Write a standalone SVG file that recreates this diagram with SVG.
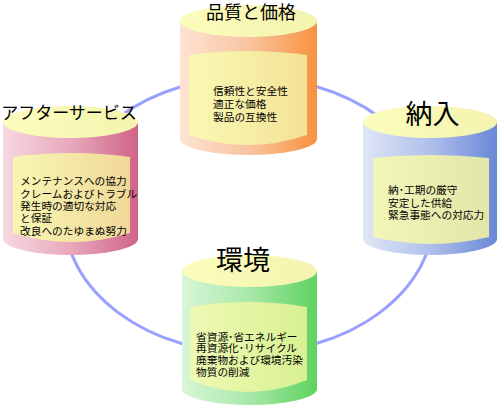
<svg xmlns="http://www.w3.org/2000/svg" width="499" height="406" viewBox="0 0 499 406">
<style>
.title{font-family:"Liberation Sans","Noto Sans CJK JP",sans-serif;fill:#000;text-anchor:middle}
.body{font-family:"Liberation Sans","Noto Sans CJK JP",sans-serif;fill:#000;font-size:10.7px}
.ring{fill:none;stroke:#9aa0ff;stroke-width:3}
.cap{fill:url(#gCap)}
</style>
<defs>
<linearGradient id="gCap" x1="0" y1="0" x2="1" y2="0"><stop offset="0" stop-color="#fcfcbc"/><stop offset="1" stop-color="#f4f4b0"/></linearGradient>
<linearGradient id="gOrange" x1="0" y1="0" x2="1" y2="0"><stop offset="0" stop-color="#fde3d4"/><stop offset="0.5" stop-color="#f9c4a0"/><stop offset="1" stop-color="#f7923e"/></linearGradient>
<linearGradient id="gPink" x1="0" y1="0" x2="1" y2="0"><stop offset="0" stop-color="#f6d8e0"/><stop offset="0.5" stop-color="#e8a8bc"/><stop offset="1" stop-color="#d06488"/></linearGradient>
<linearGradient id="gBlue" x1="0" y1="0" x2="1" y2="0"><stop offset="0" stop-color="#e0e6f6"/><stop offset="0.5" stop-color="#b0c0ec"/><stop offset="1" stop-color="#6a88d8"/></linearGradient>
<linearGradient id="gGreen" x1="0" y1="0" x2="1" y2="0"><stop offset="0" stop-color="#d8f6d8"/><stop offset="0.5" stop-color="#a8e8a8"/><stop offset="1" stop-color="#5ed25e"/></linearGradient>
<linearGradient id="pOrange" x1="0" y1="0" x2="1" y2="0"><stop offset="0" stop-color="#f9f9b4"/><stop offset="1" stop-color="#f4e296"/></linearGradient>
<linearGradient id="pPink" x1="0" y1="0" x2="1" y2="0"><stop offset="0" stop-color="#f8f6b4"/><stop offset="1" stop-color="#f0d898"/></linearGradient>
<linearGradient id="pBlue" x1="0" y1="0" x2="1" y2="0"><stop offset="0" stop-color="#f2f6b8"/><stop offset="1" stop-color="#e2e6a8"/></linearGradient>
<linearGradient id="pGreen" x1="0" y1="0" x2="1" y2="0"><stop offset="0" stop-color="#eefab4"/><stop offset="1" stop-color="#d8f092"/></linearGradient>
</defs>
<rect width="499" height="406" fill="#fff"/>
<g id="connectors">
<ellipse class="ring" cx="249" cy="215" rx="185" ry="138"/>
</g>
<g id="quality">
<path d="M180,21 L180,139 A68.5,16 0 0 0 317,139 L317,21 Z" fill="url(#gOrange)"/>
<ellipse class="cap" cx="248.5" cy="21" rx="68.5" ry="16"/>
<path d="M189,55 Q248,47 307,55 L307,135 Q248,155 189,135 Z" fill="url(#pOrange)"/>
<text class="title" x="251" y="18.5" font-size="18">品質と価格</text>
<text class="body"><tspan x="213" y="95">信頼性と安全性</tspan><tspan x="213" y="108">適正な価格</tspan><tspan x="213" y="121">製品の互換性</tspan></text>
</g>
<g id="service">
<path d="M3,122 L3,239 A67.5,16 0 0 0 138,239 L138,122 Z" fill="url(#gPink)"/>
<ellipse class="cap" cx="70.5" cy="122" rx="67.5" ry="16"/>
<path d="M13,157 Q71.5,149 130,157 L130,233 Q71.5,251 13,233 Z" fill="url(#pPink)"/>
<text class="title" x="69" y="119" font-size="17">アフターサービス</text>
<text class="body"><tspan x="20" y="185">メンテナンスへの協力</tspan><tspan x="20" y="197.5">クレームおよびトラブル</tspan><tspan x="20" y="210">発生時の適切な対応</tspan><tspan x="20" y="222.3">と保証</tspan><tspan x="20" y="234.6">改良へのたゆまぬ努力</tspan></text>
</g>
<g id="delivery">
<path d="M363,122 L363,239 A67,16 0 0 0 497,239 L497,122 Z" fill="url(#gBlue)"/>
<ellipse class="cap" cx="430" cy="122" rx="67" ry="16"/>
<path d="M373,158 Q431,152 489,158 L489,237 Q431,251 373,237 Z" fill="url(#pBlue)"/>
<text class="title" x="432.5" y="124" font-size="27">納入</text>
<text class="body"><tspan x="388" y="194">納･工期の厳守</tspan><tspan x="388" y="206.5">安定した供給</tspan><tspan x="388" y="219">緊急事態への対応力</tspan></text>
</g>
<g id="environment">
<path d="M182,271 L182,389 A67.5,16 0 0 0 317,389 L317,271 Z" fill="url(#gGreen)"/>
<ellipse class="cap" cx="249.5" cy="271" rx="67.5" ry="16"/>
<path d="M190,307 Q248.5,297 307,307 L307,380 Q248.5,404 190,380 Z" fill="url(#pGreen)"/>
<text class="title" x="243" y="270" font-size="27">環境</text>
<text class="body"><tspan x="196" y="340.5">省資源･省エネルギー</tspan><tspan x="196" y="352.3">再資源化･リサイクル</tspan><tspan x="196" y="364.1">廃棄物および環境汚染</tspan><tspan x="196" y="375.9">物質の削減</tspan></text>
</g>
</svg>
